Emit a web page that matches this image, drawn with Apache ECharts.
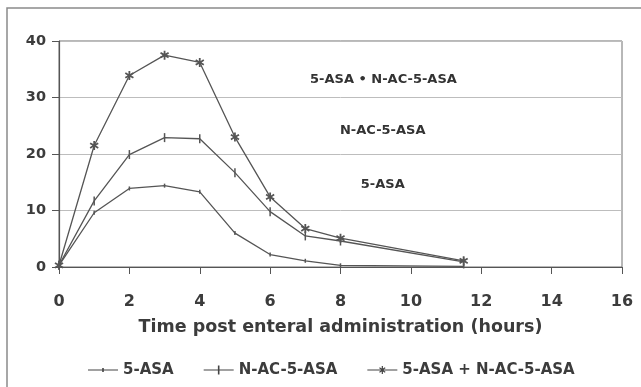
<!DOCTYPE html>
<html>
<head>
<meta charset="utf-8">
<script src="https://cdn.jsdelivr.net/npm/echarts@6/dist/echarts.min.js"></script>
<style>
html,body{margin:0;padding:0;background:#fff;}
#chart{width:641px;height:387px;}
</style>
</head>
<body>
<div id="chart"></div>
<script>
// Data
var hours = [0, 1, 2, 3, 4, 5, 6, 7, 8, 11.5];
var asa5 = [0.3, 9.6, 13.9, 14.4, 13.3, 6.0, 2.2, 1.1, 0.3, 0.1];
var nac5asa = [0.3, 11.7, 19.9, 22.9, 22.7, 16.7, 9.8, 5.5, 4.6, 0.9];
var combined = [0.3, 21.5, 33.9, 37.5, 36.2, 23.0, 12.4, 6.8, 5.1, 1.1];
var seriesNames = ['5-ASA', 'N-AC-5-ASA', '5-ASA + N-AC-5-ASA'];
var xTicks = [0, 2, 4, 6, 8, 10, 12, 14, 16];
var yTicks = [0, 10, 20, 30, 40];
var xTitle = 'Time post enteral administration (hours)';
// annotation labels (data coordinates)
var annoText = ['5-ASA \u2022 N-AC-5-ASA', 'N-AC-5-ASA', '5-ASA'];
var annoX = [9.22, 9.2, 9.2];
var annoY = [33.2, 24.2, 14.6];

function pair(xs, ys){ return xs.map(function(x,i){ return [x, ys[i]]; }); }

var FONT = '"DejaVu Sans", sans-serif';
var INK = '#3c3c3c';
var LINE = '#555555';

var starPath = 'path://M4,0L6,0L6,3.3L9,1.5L10,3.2L7,5L10,6.8L9,8.5L6,6.7L6,10L4,10L4,6.7L1,8.5L0,6.8L3,5L0,3.2L1,1.5L4,3.3Z';
// legend icons: a line with the series marker in its middle
var legIcons = [
  'path://M0,9.4L30,9.4L30,10.6L0,10.6ZM14.2,8L15.8,8L15.8,12L14.2,12Z',
  'path://M0,9.4L30,9.4L30,10.6L0,10.6ZM14.2,5.5L15.8,5.5L15.8,14.5L14.2,14.5Z',
  'path://M0,9.4L30,9.4L30,10.6L0,10.6ZM14.4,6L15.6,6L15.6,8.4L17.6,7.2L18.2,8.2L16.2,9.4L16.2,10.6L18.2,11.8L17.6,12.8L15.6,11.6L15.6,14L14.4,14L14.4,11.6L12.4,12.8L11.8,11.8L13.8,10.6L13.8,9.4L11.8,8.2L12.4,7.2L14.4,8.4ZM0,0L0.01,0L0.01,0.01ZM0,20L0.01,20L0.01,19.99Z'
];

var chart = echarts.init(document.getElementById('chart'), null, {renderer:'canvas'});
chart.setOption({
  animation: false,
  backgroundColor: '#fff',
  grid: {left: 59, right: 19, top: 41, bottom: 120, show: true, borderColor: '#707070', borderWidth: 1},
  xAxis: {
    type: 'value', min: xTicks[0], max: xTicks[xTicks.length-1], interval: 2,
    name: xTitle, nameLocation: 'middle', nameGap: 51,
    nameTextStyle: {fontFamily: FONT, fontWeight: 'bold', fontSize: 17.5, color: INK},
    axisLine: {show: true, onZero: false, lineStyle: {color: LINE, width: 1.2}},
    axisTick: {show: true, length: 7, inside: false, lineStyle: {color: LINE}},
    axisLabel: {margin: 27, fontFamily: FONT, fontWeight: 'bold', fontSize: 16, color: INK},
    splitLine: {show: false}
  },
  yAxis: {
    type: 'value', min: yTicks[0], max: yTicks[yTicks.length-1], interval: 10,
    axisLine: {show: true, lineStyle: {color: LINE, width: 1.2}},
    axisTick: {show: true, length: 7, lineStyle: {color: LINE}},
    axisLabel: {margin: 13, fontFamily: FONT, fontWeight: 'bold', fontSize: 14.5, color: INK},
    splitLine: {show: true, lineStyle: {color: '#bdbdbd', width: 1}}
  },
  legend: {
    data: seriesNames.map(function(n, i){ return {name: n, icon: legIcons[i]}; }),
    left: 88, top: 360, padding: 0,
    itemWidth: 30, itemHeight: 20, itemGap: 30,
    itemStyle: {color: '#444', borderWidth: 0},
    lineStyle: {width: 0},
    textStyle: {fontFamily: FONT, fontWeight: 'bold', fontSize: 15, color: INK}
  },
  graphic: [
    {type: 'polyline', silent: true, shape: {points: [[7, 387], [7, 8], [641, 8]]},
     style: {stroke: '#8a8a8a', lineWidth: 1.5, fill: null}}
  ],
  series: [
    {name: seriesNames[0], type: 'line', data: pair(hours, asa5),
     symbol: 'rect', symbolSize: [1.5, 4],
     lineStyle: {color: LINE, width: 1.3}, itemStyle: {color: LINE}},
    {name: seriesNames[1], type: 'line', data: pair(hours, nac5asa),
     symbol: 'rect', symbolSize: [1.5, 9],
     lineStyle: {color: LINE, width: 1.3}, itemStyle: {color: LINE}},
    {name: seriesNames[2], type: 'line', data: pair(hours, combined),
     symbol: starPath, symbolSize: 9,
     lineStyle: {color: LINE, width: 1.3}, itemStyle: {color: LINE}},
    {name: 'annotations', type: 'scatter', silent: true,
     data: annoX.map(function(x,i){ return {value: [x, annoY[i]], label: {formatter: annoText[i]}}; }),
     symbol: 'circle', symbolSize: 1, itemStyle: {color: 'rgba(0,0,0,0)'},
     label: {show: true, position: 'inside', opacity: 1, textBorderWidth: 0,
             fontFamily: FONT, fontWeight: 'bold', fontSize: 13, color: '#333'}}
  ]
});
</script>
</body>
</html>
